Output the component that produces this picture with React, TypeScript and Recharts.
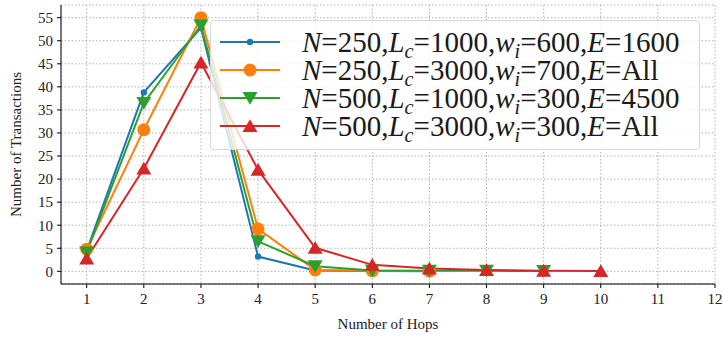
import {
  LineChart,
  Line,
  XAxis,
  YAxis,
  CartesianGrid,
} from 'recharts'

const hops = [1, 2, 3, 4, 5, 6, 7, 8, 9, 10]
const xTicks = [1, 2, 3, 4, 5, 6, 7, 8, 9, 10, 11, 12]
const yTicks = [0, 5, 10, 15, 20, 25, 30, 35, 40, 45, 50, 55]

const seriesA = [4.5, 38.8, 52.8, 3.2, 0.2, 0.05, 0]
const seriesB = [4.8, 30.7, 55, 9.2, 0.3, 0.1, 0.05]
const seriesC = [4.1, 36.5, 53.3, 6.5, 1.1, 0.2, 0.15, 0.1, 0.05]
const seriesD = [2.8, 22.3, 45.3, 22, 5.1, 1.4, 0.6, 0.3, 0.15, 0.05]

const labels = [
  { N: '250', L: '1000', w: '600', E: '1600' },
  { N: '250', L: '3000', w: '700', E: 'All' },
  { N: '500', L: '1000', w: '300', E: '4500' },
  { N: '500', L: '3000', w: '300', E: 'All' },
]

const colors = ['#1f77b4', '#ff7f0e', '#2ca02c', '#d62728']
const shapes = ['small', 'circle', 'down', 'up']

const rows = hops.map((h, i) => ({
  hop: h,
  a: seriesA[i],
  b: seriesB[i],
  c: seriesC[i],
  d: seriesD[i],
}))

const FONT = '"Liberation Serif", "DejaVu Serif", serif'

const Marker = ({ cx, cy, shape, color }: any) => {
  if (cx == null || cy == null) return null
  if (shape === 'small') return <circle cx={cx} cy={cy} r={3.2} fill={color} />
  if (shape === 'circle') return <circle cx={cx} cy={cy} r={6.5} fill={color} />
  const s = 7.5
  if (shape === 'down')
    return (
      <polygon
        points={`${cx - s},${cy - s * 0.8} ${cx + s},${cy - s * 0.8} ${cx},${cy + s * 0.9}`}
        fill={color}
      />
    )
  return (
    <polygon
      points={`${cx - s},${cy + s * 0.8} ${cx + s},${cy + s * 0.8} ${cx},${cy - s * 0.9}`}
      fill={color}
    />
  )
}

const sub = { fontSize: '0.7em', fontStyle: 'italic', verticalAlign: '-0.3em', lineHeight: 0 } as const

const MathLabel = ({ l }: any) => (
  <span>
    <i>N</i>={l.N},<i>L</i>
    <span style={sub}>c</span>={l.L},<i>w</i>
    <span style={sub}>i</span>={l.w},<i>E</i>={l.E}
  </span>
)

// legend drawn over the plot, semi transparent like matplotlib's framealpha
const LegendBox = () => (
  <div
    style={{
      position: 'absolute',
      left: 210,
      top: 20,
      width: 490,
      height: 130,
      boxSizing: 'border-box',
      background: 'rgba(255,255,255,0.8)',
      border: '1px solid #d8d8d8',
      borderRadius: 4,
      padding: '7px 0 0 9px',
      fontFamily: FONT,
      fontSize: 29,
      lineHeight: '28px',
      color: '#1a1a1a',
    }}
  >
    {labels.map((l, i) => (
      <div key={i} style={{ display: 'flex', alignItems: 'center', whiteSpace: 'nowrap', height: 28 }}>
        <svg width={60} height={28} style={{ marginRight: 22, flex: 'none' }}>
          <line x1={0} x2={60} y1={14} y2={14} stroke={colors[i]} strokeWidth={2} />
          <Marker cx={30} cy={14} shape={shapes[i]} color={colors[i]} />
        </svg>
        <MathLabel l={l} />
      </div>
    ))}
  </div>
)

const keys = ['a', 'b', 'c', 'd']

export default function App() {
  return (
    <div style={{ position: 'fixed', left: 0, top: 0, width: 723, height: 339, background: '#fff' }}>
      <LineChart
        width={723}
        height={339}
        data={rows}
        margin={{ top: 5, right: 8, left: 0, bottom: 0 }}
      >
        <CartesianGrid stroke="#b0b0b0" strokeDasharray="1.5 2" />
        <XAxis
          dataKey="hop"
          type="number"
          domain={[0.55, 12]}
          ticks={xTicks}
          interval={0}
          allowDataOverflow
          height={55}
          tickSize={4}
          tickMargin={5}
          stroke="#000"
          tick={{ fill: '#222', fontSize: 15, fontFamily: FONT }}
          label={{
            value: 'Number of Hops',
            position: 'insideBottom',
            offset: 10,
            style: { fill: '#222', fontSize: 15, fontFamily: FONT },
          }}
        />
        <XAxis
          xAxisId="top"
          orientation="top"
          dataKey="hop"
          type="number"
          domain={[0.55, 12]}
          height={0}
          tick={false}
          tickLine={false}
          stroke="#000"
        />
        <YAxis
          type="number"
          domain={[-2.75, 57.75]}
          ticks={yTicks}
          interval={0}
          allowDataOverflow
          width={61}
          tickSize={4}
          tickMargin={4}
          stroke="#000"
          tick={{ fill: '#222', fontSize: 15, fontFamily: FONT }}
          label={{
            value: 'Number of Transactions',
            angle: -90,
            position: 'insideLeft',
            offset: 16,
            style: { fill: '#222', fontSize: 15, fontFamily: FONT, textAnchor: 'middle' },
          }}
        />
        <YAxis
          yAxisId="right"
          orientation="right"
          type="number"
          domain={[-2.75, 57.75]}
          width={0}
          tick={false}
          tickLine={false}
          stroke="#000"
        />
        {keys.map((k, i) => (
          <Line
            key={k}
            dataKey={k}
            stroke={colors[i]}
            strokeWidth={2}
            isAnimationActive={false}
            dot={<Marker shape={shapes[i]} color={colors[i]} />}
            activeDot={false}
          />
        ))}
      </LineChart>
      <LegendBox />
    </div>
  )
}
